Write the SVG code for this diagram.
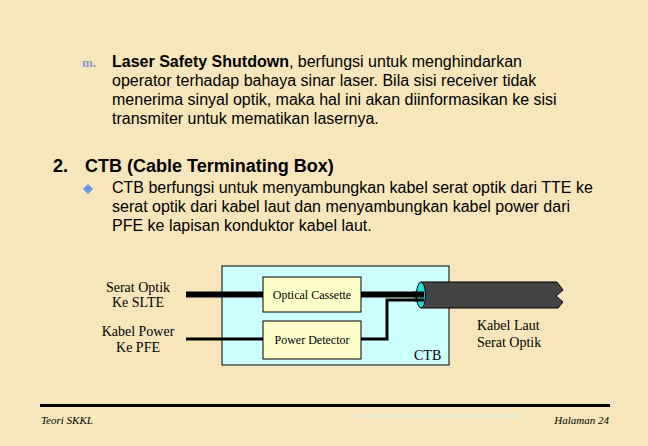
<svg xmlns="http://www.w3.org/2000/svg" width="648" height="446" viewBox="0 0 648 446">
<style>
.body{font-family:"Liberation Sans",Arial,sans-serif;font-size:16px;fill:#000}
.ser{font-family:"Liberation Serif","Times New Roman",serif;font-size:14px;fill:#000}
.box{fill:#ffffcc;stroke:#000;stroke-width:1}
.foot{font-family:"Liberation Serif","Times New Roman",serif;font-size:11px;font-style:italic;fill:#000}
</style>
<rect width="648" height="446" fill="#f7e6bb"/>
<g id="text-top">
<text x="82" y="67" style="font-family:'Liberation Serif',serif;font-size:13px;font-weight:bold;fill:#8c96d0">m.</text>
<text class="body" x="112" y="67"><tspan font-weight="bold">Laser Safety Shutdown</tspan>, berfungsi untuk menghindarkan</text>
<text class="body" x="112" y="86">operator terhadap bahaya sinar laser. Bila sisi receiver tidak</text>
<text class="body" x="112" y="105">menerima sinyal optik, maka hal ini akan diinformasikan ke sisi</text>
<text class="body" x="112" y="124">transmiter untuk mematikan lasernya.</text>
<text class="body" x="53" y="172" style="font-size:18px;font-weight:bold">2.</text>
<text class="body" x="85" y="172" style="font-size:18px;font-weight:bold">CTB (Cable Terminating Box)</text>
<path d="M88,184 L93,189 L88,194 L83,189 Z" fill="#6a94e8"/>
<text class="body" x="112" y="193">CTB berfungsi untuk menyambungkan kabel serat optik dari TTE ke</text>
<text class="body" x="112" y="212">serat optik dari kabel laut dan menyambungkan kabel power dari</text>
<text class="body" x="112" y="231">PFE ke lapisan konduktor kabel laut.</text>
</g>
<g id="ctb">
<rect x="222" y="266" width="227" height="99" fill="#ccffff" stroke="#000" stroke-width="1"/>
<text class="ser" x="414" y="360">CTB</text>
</g>
<g id="connectors" fill="none" stroke="#000">
<line x1="186" y1="294.5" x2="263" y2="294.5" stroke-width="6"/>
<line x1="361" y1="294.5" x2="422" y2="294.5" stroke-width="6"/>
<line x1="186" y1="339" x2="263" y2="339" stroke-width="3"/>
<polyline points="361,339 387,339 387,300 422,300" stroke-width="3"/>
</g>
<g id="optical-cassette">
<rect class="box" x="263" y="277" width="98" height="35"/>
<text class="ser" x="312" y="299" text-anchor="middle" style="font-size:12px">Optical Cassette</text>
</g>
<g id="power-detector">
<rect class="box" x="263" y="321" width="98" height="38"/>
<text class="ser" x="312" y="344" text-anchor="middle" style="font-size:12px">Power Detector</text>
</g>
<g id="kabel-laut">
<path d="M421,282 L557,282 L563,290 L556,296 L563,302 L558,308 L421,308 Z" fill="#444" stroke="#000" stroke-width="1"/>
<ellipse cx="421" cy="295" rx="4.5" ry="13" fill="#22dddd" stroke="#000" stroke-width="1"/>
<line x1="414" y1="294.5" x2="424" y2="294.5" stroke="#000" stroke-width="6"/>
<line x1="414" y1="300" x2="424" y2="300" stroke="#000" stroke-width="3"/>
<text class="ser" x="477" y="330">Kabel Laut</text>
<text class="ser" x="477" y="347">Serat Optik</text>
</g>
<g id="labels-left">
<text class="ser" x="138" y="292" text-anchor="middle">Serat Optik</text>
<text class="ser" x="138" y="307" text-anchor="middle">Ke SLTE</text>
<text class="ser" x="138" y="336" text-anchor="middle">Kabel Power</text>
<text class="ser" x="138" y="352" text-anchor="middle">Ke PFE</text>
</g>
<g id="footer">
<line x1="40" y1="405.5" x2="610" y2="405.5" stroke="#000" stroke-width="3"/>
<line x1="355" y1="416" x2="520" y2="416" stroke="#d6ecdf" stroke-width="2"/>
<text class="foot" x="41" y="424">Teori SKKL</text>
<text class="foot" x="609" y="424" text-anchor="end">Halaman 24</text>
</g>
</svg>
